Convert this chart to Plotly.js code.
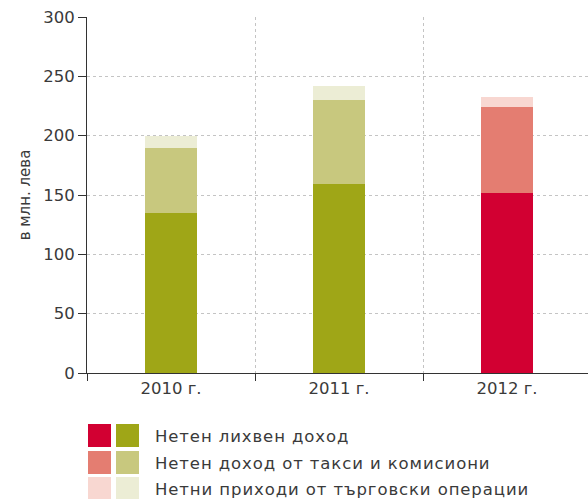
<!DOCTYPE html>
<html>
<head>
<meta charset="utf-8">
<script src="https://cdn.plot.ly/plotly-3.0.1.min.js"></script>
<style>
html,body{margin:0;padding:0;background:#fff;}
#chart{width:588px;height:499px;}
#chart .annotation-text{letter-spacing:0.9px;}
</style>
</head>
<body>
<div id="chart"></div>
<script>
var categories = ['2010 г.', '2011 г.', '2012 г.'];
var netInterest = [135, 159, 152];
var netFees = [55, 71, 72];
var netTrading = [10, 12, 9];
var seriesNames = ['Нетен лихвен доход', 'Нетен доход от такси и комисиони', 'Нетни приходи от търговски операции'];
var greenShades = ['#9FA617', '#C8C87E', '#ECEDD5'];
var redShades = ['#D20032', '#E47D71', '#F8D7D1'];
var barColorSet = ['green', 'green', 'red'];

function colorsFor(level) {
  return barColorSet.map(function (c) { return c === 'red' ? redShades[level] : greenShades[level]; });
}

var seriesValues = [netInterest, netFees, netTrading];
var traces = seriesValues.map(function (vals, i) {
  return {
    type: 'bar',
    x: categories,
    y: vals,
    name: seriesNames[i],
    width: 0.315,
    marker: {color: colorsFor(i), line: {width: 0}},
    hoverinfo: 'x+y+name',
    showlegend: false
  };
});

// plot area: x 87..588 (501px), y 17..373 (356px)
function px(p) { return (p - 87) / 501; }
function py(p) { return (373 - p) / 356; }

var FONT = 'DejaVu Sans, sans-serif';
var TXT = '#3a3a3a';
var shapes = [];
var annotations = [];
var rowTops = [424, 451, 477];
var rowH = 23;
for (var i = 0; i < 3; i++) {
  var y0 = py(rowTops[i] + rowH);
  var y1 = py(rowTops[i]);
  shapes.push({type: 'rect', xref: 'paper', yref: 'paper', x0: px(88), x1: px(111), y0: y0, y1: y1,
    fillcolor: redShades[i], line: {width: 0}, layer: 'above'});
  shapes.push({type: 'rect', xref: 'paper', yref: 'paper', x0: px(116), x1: px(139), y0: y0, y1: y1,
    fillcolor: greenShades[i], line: {width: 0}, layer: 'above'});
  annotations.push({xref: 'paper', yref: 'paper', x: px(153), y: py(rowTops[i] + rowH / 2 + 1), xanchor: 'left', yanchor: 'middle',
    align: 'left', width: 420,
    text: seriesNames[i], showarrow: false, font: {family: FONT, size: 16.5, color: TXT}});
}

var layout = {
  width: 588, height: 499,
  margin: {l: 87, r: 0, t: 17, b: 126, pad: 0},
  barmode: 'stack',
  paper_bgcolor: '#fff', plot_bgcolor: '#fff',
  showlegend: false,
  font: {family: FONT, size: 16, color: TXT},
  xaxis: {
    type: 'category',
    range: [-0.5, 2.482],
    tickson: 'boundaries',
    ticks: 'outside', ticklen: 7, tickcolor: '#333', tickwidth: 1,
    showline: true, linecolor: '#333', linewidth: 1,
    showgrid: true, gridcolor: '#c4c4c4', griddash: 'dot', gridwidth: 1,
    tickfont: {family: FONT, size: 16.5, color: TXT},
    zeroline: false, fixedrange: true
  },
  yaxis: {
    range: [0, 300],
    dtick: 50,
    ticks: 'outside', ticklen: 8, tickcolor: '#333', tickwidth: 1,
    showline: true, linecolor: '#333', linewidth: 1,
    showgrid: true, gridcolor: '#c4c4c4', griddash: 'dot', gridwidth: 1,
    zeroline: false,
    tickfont: {family: FONT, size: 16.5, color: TXT},
    title: {text: 'в млн. лева', font: {family: FONT, size: 15, color: TXT}, standoff: 8},
    fixedrange: true
  },
  shapes: shapes,
  annotations: annotations
};

Plotly.newPlot('chart', traces, layout, {displayModeBar: false, staticPlot: true});
</script>
</body>
</html>
